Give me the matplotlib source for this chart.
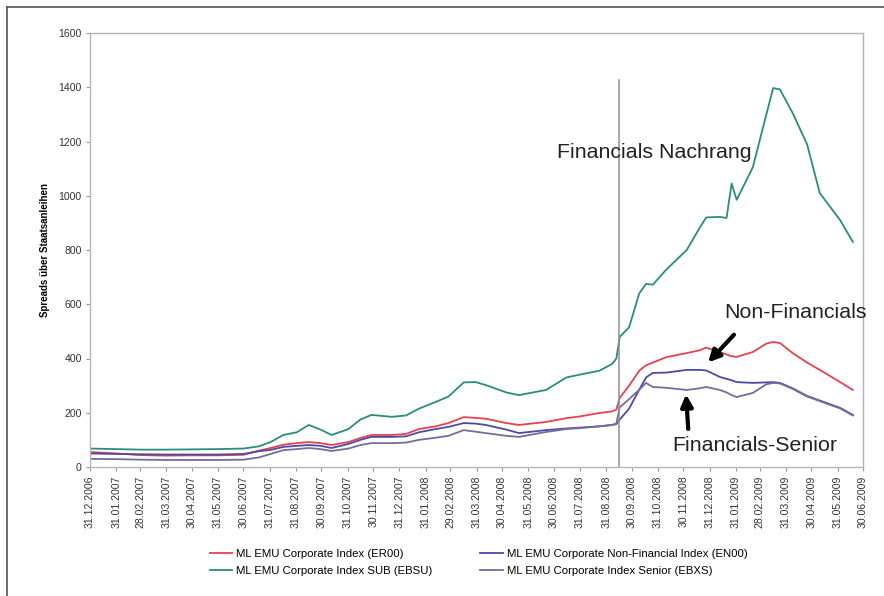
import matplotlib
matplotlib.use("Agg")
import matplotlib.pyplot as plt
from matplotlib.lines import Line2D
import pandas as pd

plt.rcParams['font.family'] = ['Liberation Sans', 'DejaVu Sans']

dates = ["2006-12-31", "2007-01-31", "2007-02-28", "2007-03-31", "2007-04-30", "2007-05-31",
         "2007-06-30", "2007-07-18", "2007-08-01", "2007-08-16", "2007-09-01", "2007-09-15",
         "2007-09-29", "2007-10-12", "2007-11-01", "2007-11-15", "2007-11-28", "2007-12-22",
         "2008-01-08", "2008-01-23", "2008-02-12", "2008-02-27", "2008-03-16", "2008-03-30",
         "2008-04-11", "2008-05-05", "2008-05-20", "2008-06-21", "2008-07-15", "2008-07-30",
         "2008-08-23", "2008-09-07", "2008-09-12", "2008-09-16", "2008-09-27", "2008-10-09",
         "2008-10-17", "2008-10-25", "2008-11-10", "2008-12-04", "2008-12-19", "2008-12-27",
         "2009-01-12", "2009-01-20", "2009-01-26", "2009-02-01", "2009-02-20", "2009-03-08",
         "2009-03-16", "2009-03-24", "2009-04-08", "2009-04-25", "2009-05-10", "2009-06-03",
         "2009-06-18"]

er00 = [55, 50, 44, 42, 43, 43, 45, 60, 70, 82, 88, 92, 88, 81, 92, 107, 118, 118,
        122, 140, 150, 162, 184, 181, 178, 162, 155, 166, 180, 186, 199, 205, 212, 255,
        300, 355, 375, 385, 405, 420, 430, 440, 424, 415, 408, 406, 424, 455, 461, 457,
        420, 385, 358, 313, 284]
en00 = [50, 48, 47, 46, 46, 46, 48, 58, 63, 74, 78, 81, 78, 70, 85, 100, 111, 111,
        113, 128, 140, 148, 162, 160, 155, 138, 125, 136, 142, 145, 150, 155, 158, 175,
        215, 285, 330, 347, 348, 358, 358, 356, 332, 325, 320, 313, 310, 312, 313, 310,
        290, 262, 245, 218, 192]
ebsu = [68, 66, 64, 64, 65, 66, 68, 76, 92, 118, 128, 155, 138, 118, 140, 175, 192, 185,
        190, 215, 240, 260, 312, 313, 302, 275, 265, 284, 330, 340, 355, 380, 400, 480,
        515, 640, 675, 672, 728, 800, 880, 920, 922, 918, 1045, 985, 1105, 1300, 1397, 1392,
        1305, 1190, 1010, 910, 830]
ebxs = [30, 29, 27, 26, 26, 26, 27, 35, 48, 62, 66, 70, 66, 59, 68, 81, 88, 88,
        90, 100, 108, 115, 136, 130, 125, 115, 111, 129, 140, 143, 150, 155, 160, 220,
        250, 285, 310, 295, 292, 284, 290, 295, 284, 275, 265, 258, 273, 305, 310, 308,
        288, 260, 243, 216, 190]

tick_dates = ["2006-12-31", "2007-01-31", "2007-02-28", "2007-03-31", "2007-04-30", "2007-05-31",
              "2007-06-30", "2007-07-31", "2007-08-31", "2007-09-30", "2007-10-31", "2007-11-30",
              "2007-12-31", "2008-01-31", "2008-02-29", "2008-03-31", "2008-04-30", "2008-05-31",
              "2008-06-30", "2008-07-31", "2008-08-31", "2008-09-30", "2008-10-31", "2008-11-30",
              "2008-12-31", "2009-01-31", "2009-02-28", "2009-03-31", "2009-04-30", "2009-05-31",
              "2009-06-30"]
tick_labels = [pd.Timestamp(d).strftime("%d.%m.%Y") for d in tick_dates]
yticks = [0, 200, 400, 600, 800, 1000, 1200, 1400, 1600]

series_names = ["ML EMU Corporate Index (ER00)", "ML EMU Corporate Index SUB (EBSU)",
                "ML EMU Corporate Non-Financial Index (EN00)", "ML EMU Corporate Index Senior (EBXS)"]
colors = ["#e5424e", "#2a8d7c", "#4c4aa6", "#736c9c"]

x = pd.to_datetime(dates)
xt = pd.to_datetime(tick_dates)

fig = plt.figure(figsize=(8.84, 5.96), dpi=100)
ax = fig.add_axes([90 / 884, (596 - 467) / 596, (863 - 90) / 884, 434 / 596])

handles = []
for vals, name, c in zip([er00, ebsu, en00, ebxs], series_names, colors):
    h, = ax.plot(x, vals, color=c, lw=1.3, label=name)
    handles.append(h)

lehman = pd.Timestamp("2008-09-15")
ax.plot([lehman, lehman], [0, 1427], color="#909090", lw=1.1)

ax.set_xlim(pd.Timestamp("2006-12-31"), pd.Timestamp("2009-06-30"))
ax.set_ylim(0, 1600)
ax.set_xticks(xt)
ax.set_xticklabels(tick_labels, rotation=90, fontsize=7.6, color="#333333")
ax.set_yticks(yticks)
ax.set_yticklabels([str(v) for v in yticks], fontsize=7.6, color="#333333")
ax.tick_params(axis='both', length=3, width=0.8, color="#999999", pad=3)
for s in ax.spines.values():
    s.set_color("#b5b5b5")
    s.set_linewidth(1.0)
ax.set_ylabel("Spreads über Staatsanleihen", fontsize=7, fontweight="bold", labelpad=6)

ax.text(pd.Timestamp("2008-07-04"), 1158, "Financials Nachrang", fontsize=15.4, ha="left", va="center", color="#222222")
ax.text(pd.Timestamp("2009-01-17"), 568, "Non-Financials", fontsize=15.4, ha="left", va="center", color="#222222")
ax.text(pd.Timestamp("2008-11-17"), 81, "Financials-Senior", fontsize=15.4, ha="left", va="center", color="#222222")
ax.annotate("", xy=(pd.Timestamp("2008-12-27"), 378), xytext=(pd.Timestamp("2009-01-31"), 495),
            arrowprops=dict(arrowstyle="-|>,head_width=0.35,head_length=0.7", color="black", lw=3))
ax.annotate("", xy=(pd.Timestamp("2008-12-03"), 278), xytext=(pd.Timestamp("2008-12-06"), 130),
            arrowprops=dict(arrowstyle="-|>,head_width=0.35,head_length=0.7", color="black", lw=3))

fig.legend(handles, series_names, loc="upper left", bbox_to_anchor=(205 / 884, 1 - 544 / 596),
           ncol=2, frameon=False, fontsize=8.2, handlelength=2.0, handletextpad=0.35,
           columnspacing=4.2, labelspacing=0.62, borderaxespad=0)

fig.add_artist(Line2D([7 / 884, 1], [1 - 7 / 596, 1 - 7 / 596], color="#555555", lw=1.2))
fig.add_artist(Line2D([7 / 884, 7 / 884], [0, 1 - 7 / 596], color="#555555", lw=1.2))

fig.savefig("out.png", dpi=100)
